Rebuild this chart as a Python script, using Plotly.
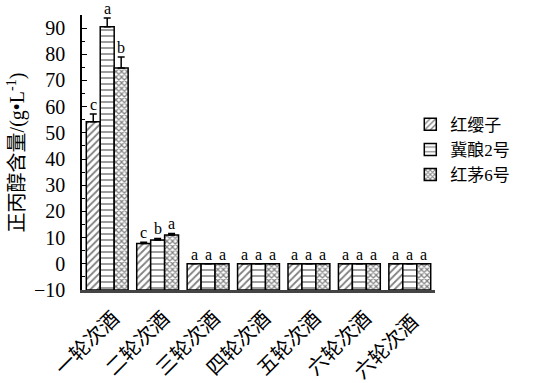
import plotly.graph_objects as go

categories = ["一轮次酒", "二轮次酒", "三轮次酒", "四轮次酒", "五轮次酒", "六轮次酒", "六轮次酒 "]
series_names = ["红缨子", "冀酿2号", "红茅6号"]
values_hyz = [54.2, 7.8, 0, 0, 0, 0, 0]
values_jn2 = [90.5, 9.1, 0, 0, 0, 0, 0]
values_hm6 = [74.8, 11.0, 0, 0, 0, 0, 0]
err_hyz = [3.0, 0.4, 0, 0, 0, 0, 0]
err_jn2 = [3.4, 0.6, 0, 0, 0, 0, 0]
err_hm6 = [4.2, 0.6, 0, 0, 0, 0, 0]
letters_hyz = ["c", "c", "a", "a", "a", "a", "a"]
letters_jn2 = ["a", "b", "a", "a", "a", "a", "a"]
letters_hm6 = ["b", "a", "a", "a", "a", "a", "a"]
y_ticks = [-10, 0, 10, 20, 30, 40, 50, 60, 70, 80, 90]

BASE = -10
FONT = "Liberation Serif, Times New Roman, Noto Sans CJK SC, serif"

series = [
    (series_names[0], values_hyz, err_hyz, letters_hyz, "/", 5, 0.35),
    (series_names[1], values_jn2, err_jn2, letters_jn2, "-", 6, 0.25),
    (series_names[2], values_hm6, err_hm6, letters_hm6, "x", 4, 0.5),
]

fig = go.Figure()
group_width = 0.83
bw = group_width / 3
annotations = []
for k, (name, vals, errs, lets, shape, size, sol) in enumerate(series):
    fig.add_trace(go.Bar(
        name=name, legendgroup=name,
        x=list(range(len(categories))),
        y=[v - BASE for v in vals],
        base=BASE,
        marker=dict(color="white",
                    line=dict(color="black", width=1.5),
                    pattern=dict(shape=shape, fgcolor="black", bgcolor="white",
                                 size=size, solidity=sol)),
        error_y=dict(type="data", array=errs, arrayminus=[0]*len(errs), symmetric=False,
                     color="black", thickness=1.5, width=3.5),
    ))
    for i, (v, e, t) in enumerate(zip(vals, errs, lets)):
        annotations.append(dict(x=i + (k - 1) * bw, y=v + e, xref="x", yref="y",
                                text=t, showarrow=False, yanchor="bottom", yshift=-1,
                                font=dict(family=FONT, size=16, color="black")))

fig.update_layout(
    width=536, height=383,
    margin=dict(l=82, r=101, t=15, b=93),
    paper_bgcolor="white", plot_bgcolor="white",
    barmode="group", bargap=1 - group_width, bargroupgap=0,
    font=dict(family=FONT, size=18, color="black"),
    showlegend=True,
    legend=dict(x=0.93, y=0.51, xanchor="left", yanchor="middle",
                font=dict(family=FONT, size=17, color="black"),
                itemwidth=30, tracegroupgap=0, bgcolor="rgba(0,0,0,0)"),
    annotations=annotations,
)
fig.update_xaxes(
    tickmode="array", tickvals=list(range(len(categories))), ticktext=categories,
    range=[-0.5, len(categories) - 0.5], automargin=False,
    tickangle=-45, showline=True, linecolor="#444", linewidth=2.5,
    ticks="", showgrid=False, zeroline=False,
    ticklabelstandoff=6, ticklabelshift=6,
    tickfont=dict(family=FONT, size=20, color="black"),
)
fig.update_yaxes(
    range=[-10, 95], tickvals=y_ticks, showline=True, linecolor="black", linewidth=1.5,
    ticks="inside", ticklen=5, tickwidth=1.2, tickcolor="black", automargin=False,
    minor=dict(dtick=5, ticks="inside", ticklen=3, tickwidth=1, tickcolor="black"),
    showgrid=False, zeroline=False, ticklabelstandoff=11,
    tickfont=dict(family=FONT, size=20, color="black"),
    title=dict(text="正丙醇含量/(g•L<sup>-1</sup>)", standoff=4,
               font=dict(family=FONT, size=20, color="black")),
)

fig.write_html("out.html", config={"displayModeBar": False},
               post_script="document.body.style.margin='0';")
